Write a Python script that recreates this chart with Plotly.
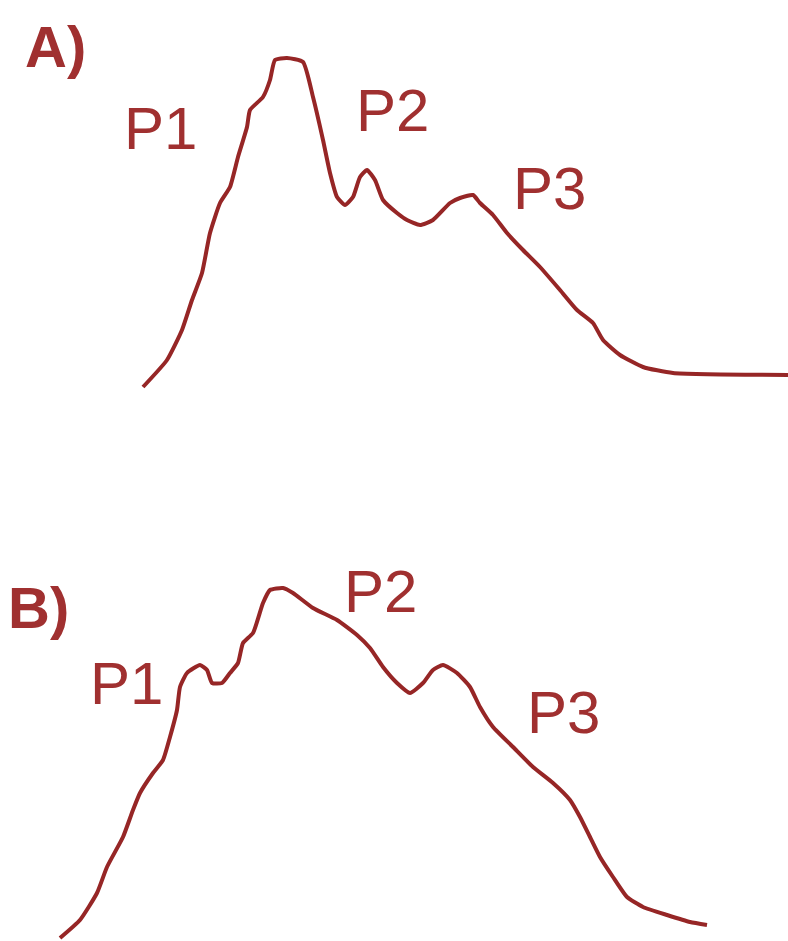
import plotly.graph_objects as go

# Curve A (pixel-space trace of the drawn profile)
a_x = [143, 167, 182, 192, 202, 210, 220, 230, 238, 247, 250, 263, 270, 275, 287, 303, 313, 323, 330, 337,
       345, 353, 360, 367, 375, 383, 397, 407, 420, 433, 450, 460, 473, 480, 493, 507, 523, 540, 560, 577,
       593, 603, 620, 643, 673, 788]
a_y = [387, 360, 330, 300, 273, 233, 203, 187, 157, 127, 110, 97, 80, 60, 58, 62, 97, 140, 173, 197,
       205, 197, 177, 170, 180, 200, 213, 220, 225, 220, 203, 198, 195, 203, 215, 233, 250, 267, 290, 310,
       323, 340, 355, 367, 373, 375]

# Curve B
b_x = [60, 80, 97, 107, 123, 133, 140, 153, 163, 170, 177, 180, 187, 200, 207, 212, 222, 230, 238, 243,
       253, 263, 270, 283, 293, 313, 337, 357, 370, 383, 397, 410, 423, 433, 443, 457, 470, 480, 493, 513,
       533, 553, 570, 580, 590, 600, 613, 627, 643, 667, 690, 707]
b_y = [938, 920, 893, 867, 837, 810, 793, 773, 760, 737, 710, 687, 673, 665, 670, 683, 683, 673, 663, 643,
       633, 603, 590, 588, 593, 608, 620, 635, 648, 667, 683, 693, 683, 670, 665, 673, 687, 707, 727, 747,
       767, 783, 800, 817, 837, 857, 877, 897, 907, 915, 922, 925]

labels = ["A)", "P1", "P2", "P3", "B)", "P1", "P2", "P3"]
label_x = [55, 160, 392, 549, 38, 126, 380, 563]
label_y = [46, 128, 110, 188, 607, 683, 591, 712]
label_bold = [True, False, False, False, True, False, False, False]

line_color = "rgb(150,38,38)"
text_color = "rgb(160,48,48)"

fig = go.Figure()
fig.add_trace(go.Scatter(x=a_x, y=a_y, mode="lines",
                         line=dict(color=line_color, width=4, shape="spline", smoothing=0.5),
                         hoverinfo="skip"))
fig.add_trace(go.Scatter(x=b_x, y=b_y, mode="lines",
                         line=dict(color=line_color, width=4, shape="spline", smoothing=0.5),
                         hoverinfo="skip"))

for t, x, y, b in zip(labels, label_x, label_y, label_bold):
    fig.add_annotation(x=x, y=y, xref="x", yref="y", text=("<b>%s</b>" % t) if b else t,
                       showarrow=False, xanchor="center", yanchor="middle",
                       font=dict(family="Liberation Sans Narrow, Arial Narrow, Liberation Sans, Arial, sans-serif",
                                 size=60 if not b else 58, color=text_color))

fig.update_layout(
    width=788, height=941,
    margin=dict(l=0, r=0, t=0, b=0),
    paper_bgcolor="white", plot_bgcolor="white",
    showlegend=False,
    xaxis=dict(range=[0, 788], visible=False, fixedrange=True),
    yaxis=dict(range=[941, 0], visible=False, fixedrange=True),
)

fig.write_html("out.html", config={"displayModeBar": False, "staticPlot": True},
               post_script="document.body.style.margin='0';document.body.style.overflow='hidden';")
